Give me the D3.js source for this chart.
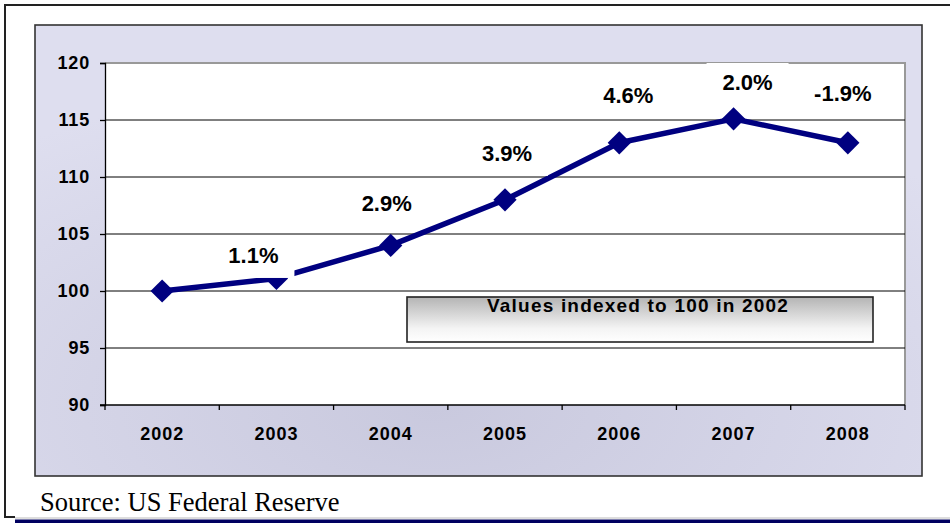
<!DOCTYPE html>
<html>
<head>
<meta charset="utf-8">
<script src="https://cdn.jsdelivr.net/npm/d3@7"></script>
<style>
  html, body { margin: 0; padding: 0; background: #fff; }
  svg { display: block; }
</style>
</head>
<body>
<script>
// Index of values, 2002 = 100
const years = ["2002", "2003", "2004", "2005", "2006", "2007", "2008"];
const indexValues = [100, 101.1, 104.0, 108.0, 113.0, 115.1, 113.0];
const growthLabels = ["", "1.1%", "2.9%", "3.9%", "4.6%", "2.0%", "-1.9%"];
const yTicks = [90, 95, 100, 105, 110, 115, 120];
const noteText = "Values indexed to 100 in 2002";
const sourceText = "Source: US Federal Reserve";

// label placement relative to each point (pixels)
const labelDx = [0, -23, -4, 2, 9, 14, -5];
const labelDy = [0, -23.5, -42, -47, -48, -37, -50];

const W = 950, H = 523;
const plot = { left: 105, top: 63, right: 905, bottom: 405 };
const NAVY = "#000080";
const SANS = "'Liberation Sans', Arial, sans-serif";

const svg = d3.select("body").append("svg").attr("width", W).attr("height", H);
const defs = svg.append("defs");

// panel background gradient
const pg = defs.append("radialGradient").attr("id", "panelGrad")
  .attr("cx", "45%").attr("cy", "85%").attr("r", "75%");
pg.append("stop").attr("offset", "0%").attr("stop-color", "#c9c9de");
pg.append("stop").attr("offset", "100%").attr("stop-color", "#dedeef");

// note box gradient
const ng = defs.append("linearGradient").attr("id", "noteGrad")
  .attr("x1", 0).attr("y1", 0).attr("x2", 0).attr("y2", 1);
ng.append("stop").attr("offset", "0%").attr("stop-color", "#b4b4b4");
ng.append("stop").attr("offset", "70%").attr("stop-color", "#f4f4f4");
ng.append("stop").attr("offset", "100%").attr("stop-color", "#ffffff");

defs.append("clipPath").attr("id", "plotClip").append("rect")
  .attr("x", plot.left).attr("y", plot.top)
  .attr("width", plot.right - plot.left).attr("height", plot.bottom - plot.top);

// outer frame
svg.append("line").attr("x1", 5).attr("y1", 5).attr("x2", W).attr("y2", 5)
  .attr("stroke", "#222").attr("stroke-width", 2);
svg.append("line").attr("x1", 5).attr("y1", 4).attr("x2", 5).attr("y2", 518)
  .attr("stroke", "#222").attr("stroke-width", 2);
svg.append("line").attr("x1", 4).attr("y1", 517).attr("x2", 15).attr("y2", 517)
  .attr("stroke", "#222").attr("stroke-width", 2);
svg.append("line").attr("x1", 15).attr("y1", 518).attr("x2", W).attr("y2", 518)
  .attr("stroke", "#bbb").attr("stroke-width", 1);
svg.append("rect").attr("x", 15).attr("y", 519.5).attr("width", W - 15).attr("height", 3.5)
  .attr("fill", "#000060");

// chart panel
svg.append("rect").attr("x", 35).attr("y", 25).attr("width", 887).attr("height", 451)
  .attr("fill", "url(#panelGrad)").attr("stroke", "#333").attr("stroke-width", 1.6);

// plot area
svg.append("rect").attr("x", plot.left).attr("y", plot.top)
  .attr("width", plot.right - plot.left).attr("height", plot.bottom - plot.top)
  .attr("fill", "#fff");
svg.append("path")
  .attr("d", `M${plot.left},${plot.top}H${plot.right}V${plot.bottom}`)
  .attr("fill", "none").attr("stroke", "#999").attr("stroke-width", 2);

const x = d3.scaleBand().domain(years).range([plot.left, plot.right]);
const y = d3.scaleLinear().domain([90, 120]).range([plot.bottom, plot.top]);
const cx = d => x(d) + x.bandwidth() / 2;

// gridlines
svg.append("g").selectAll("line")
  .data(yTicks.filter(t => t > 90 && t < 120))
  .join("line")
  .attr("x1", plot.left).attr("x2", plot.right)
  .attr("y1", d => y(d)).attr("y2", d => y(d))
  .attr("stroke", "#000").attr("stroke-width", 1);

// y axis
const yAxis = svg.append("g").attr("transform", `translate(${plot.left},0)`)
  .call(d3.axisLeft(y).tickValues(yTicks).tickSize(5).tickPadding(10));
yAxis.select(".domain").attr("stroke", "#000").attr("stroke-width", 1.3);
yAxis.selectAll(".tick line").attr("stroke", "#000").attr("stroke-width", 1.3);
yAxis.selectAll(".tick text")
  .attr("fill", "#000").attr("font-family", SANS)
  .attr("font-weight", "bold").attr("font-size", 18).attr("letter-spacing", 0.8);

// x axis
const xAxis = svg.append("g").attr("transform", `translate(0,${plot.bottom})`)
  .call(d3.axisBottom(x).tickSize(0).tickPadding(22));
xAxis.select(".domain").attr("stroke", "#000").attr("stroke-width", 1.3)
  .attr("d", `M${plot.left - 5},0H${plot.right}`);
xAxis.selectAll(".tick text")
  .attr("fill", "#000").attr("font-family", SANS)
  .attr("font-weight", "bold").attr("font-size", 18).attr("letter-spacing", 1);
xAxis.append("g").selectAll("line")
  .data(years.map(d => x(d)).concat([x(years[years.length - 1]) + x.bandwidth()]))
  .join("line")
  .attr("x1", d => d).attr("x2", d => d).attr("y1", 0).attr("y2", 5)
  .attr("stroke", "#000").attr("stroke-width", 1.3);

// note box
const note = svg.append("g");
note.append("rect").attr("x", 407).attr("y", 297).attr("width", 466).attr("height", 45)
  .attr("fill", "url(#noteGrad)").attr("stroke", "#222").attr("stroke-width", 1.6);
note.append("text").attr("x", 638).attr("y", 312).attr("text-anchor", "middle")
  .attr("font-family", SANS).attr("font-weight", "bold")
  .attr("font-size", 19).attr("letter-spacing", 1.2).attr("fill", "#000")
  .text(noteText);

// series line and markers
const pts = years.map((yr, i) => ({ yr, v: indexValues[i], lab: growthLabels[i], i }));
svg.append("path").datum(pts)
  .attr("d", d3.line().x(d => cx(d.yr)).y(d => y(d.v)))
  .attr("fill", "none").attr("stroke", NAVY).attr("stroke-width", 5.5)
  .attr("stroke-linejoin", "round");
svg.append("g").selectAll("path").data(pts).join("path")
  .attr("d", d3.symbol(d3.symbolSquare, 270))
  .attr("transform", d => `translate(${cx(d.yr)},${y(d.v)}) rotate(45)`)
  .attr("fill", NAVY);

// growth labels on white boxes
const labs = svg.append("g").attr("clip-path", "url(#plotClip)")
  .selectAll("g").data(pts.filter(d => d.lab)).join("g")
  .attr("transform", d => `translate(${cx(d.yr) + labelDx[d.i]},${y(d.v) + labelDy[d.i]})`);
labs.append("rect").attr("x", -41).attr("y", -19).attr("width", 82).attr("height", 42)
  .attr("fill", "#fff");
labs.append("text").attr("text-anchor", "middle").attr("y", 8)
  .attr("font-family", SANS).attr("font-weight", "bold")
  .attr("font-size", 22).attr("fill", "#000")
  .text(d => d.lab);

// source note
svg.append("text").attr("x", 40).attr("y", 511)
  .attr("font-family", "'Liberation Serif', 'Times New Roman', serif")
  .attr("font-size", 26.5).attr("fill", "#000")
  .text(sourceText);
</script>
</body>
</html>
